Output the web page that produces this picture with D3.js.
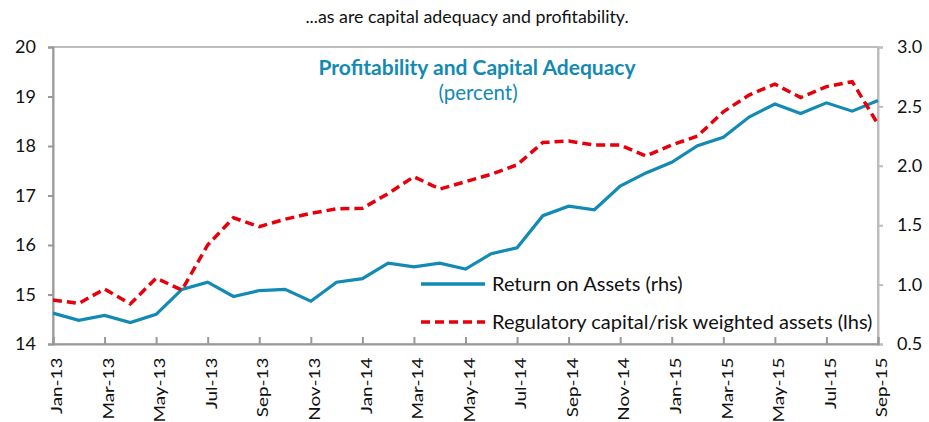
<!DOCTYPE html>
<html><head><meta charset="utf-8">
<script src="https://cdn.jsdelivr.net/npm/d3@7"></script>
<style>body{margin:0;background:#fff}svg{display:block;font-family:Lato,"Open Sans",sans-serif}</style>
</head><body><svg id="c" width="929" height="422"></svg>
<script>
const months = ["Jan-13","Feb-13","Mar-13","Apr-13","May-13","Jun-13","Jul-13","Aug-13","Sep-13","Oct-13","Nov-13","Dec-13",
"Jan-14","Feb-14","Mar-14","Apr-14","May-14","Jun-14","Jul-14","Aug-14","Sep-14","Oct-14","Nov-14","Dec-14",
"Jan-15","Feb-15","Mar-15","Apr-15","May-15","Jun-15","Jul-15","Aug-15","Sep-15"];
const roa = [0.76,0.70,0.74,0.68,0.75,0.96,1.02,0.90,0.95,0.96,0.86,1.02,1.05,1.18,1.15,1.18,1.13,1.26,1.31,1.58,1.66,1.63,1.83,1.94,2.03,2.17,2.24,2.41,2.52,2.44,2.53,2.46,2.55];
const capital = [14.89,14.82,15.11,14.81,15.33,15.09,16.00,16.55,16.37,16.52,16.64,16.73,16.74,17.04,17.38,17.13,17.28,17.43,17.62,18.07,18.10,18.02,18.02,17.80,18.02,18.20,18.69,19.03,19.25,18.98,19.20,19.30,18.44];
const leftTicks = [14,15,16,17,18,19,20];
const rightTicks = [0.5,1.0,1.5,2.0,2.5,3.0];
const xLabels = months.filter((d,i)=>i%2===0);
const title = "...as are capital adequacy and profitability.";
const innerTitle = "Profitability and Capital Adequacy";
const innerSub = "(percent)";
const legendROA = "Return on Assets (rhs)";
const legendCap = "Regulatory capital/risk weighted assets (lhs)";

const blue = "#138ab3", red = "#e5000c";
const L = 53, R = 878, T = 47, B = 344;
const svg = d3.select("#c");
const x = d3.scalePoint().domain(months).range([L, R]);
const yL = d3.scaleLinear().domain([14,20]).range([B, T]);
const yR = d3.scaleLinear().domain([0.5,3.0]).range([B, T]);

svg.append("text").attr("x",467).attr("y",23).attr("text-anchor","middle")
  .attr("font-size",17.8).attr("fill","#111").text(title);

// frame
svg.append("rect").attr("x",L).attr("y",T).attr("width",R-L).attr("height",B-T)
  .attr("fill","none").attr("stroke","#bdbdbd").attr("stroke-width",2);

// left axis
const gl = svg.append("g").attr("transform",`translate(${L},0)`)
  .call(d3.axisLeft(yL).tickValues(leftTicks).tickSize(5).tickPadding(12).tickFormat(d3.format("d")));
gl.selectAll("text").attr("font-size",18).attr("fill","#111").attr("font-family","Lato,sans-serif");
gl.selectAll("line,path").attr("stroke","#999").attr("stroke-width",2);

// right axis
const gr = svg.append("g").attr("transform",`translate(${R},0)`)
  .call(d3.axisRight(yR).tickValues(rightTicks).tickSize(5).tickPadding(14).tickFormat(d3.format(".1f")));
gr.selectAll("text").attr("font-size",18).attr("fill","#111").attr("font-family","Lato,sans-serif");
gr.selectAll("line,path").attr("stroke","#bdbdbd").attr("stroke-width",2);

// bottom axis
const gb = svg.append("g").attr("transform",`translate(0,${B})`)
  .call(d3.axisBottom(x).tickValues(xLabels).tickSize(-7).tickPadding(9));
gb.selectAll("line,path").attr("stroke","#999").attr("stroke-width",2);
gb.selectAll(".tick text").attr("font-size",14.5).attr("fill","#111").attr("font-family","Lato,sans-serif")
  .attr("text-anchor","end").attr("dy","0.6em")
  .attr("transform","rotate(-90) scale(1.3,1)")
  .attr("x",-10.5).attr("y",0);

// lines
svg.append("path").datum(roa).attr("fill","none").attr("stroke",blue).attr("stroke-width",3.2)
  .attr("d",d3.line().x((d,i)=>x(months[i])).y(d=>yR(d)));
svg.append("path").datum(capital).attr("fill","none").attr("stroke",red).attr("stroke-width",3.5)
  .attr("stroke-dasharray","9,5")
  .attr("d",d3.line().x((d,i)=>x(months[i])).y(d=>yL(d)));

// inner titles
svg.append("text").attr("x",477).attr("y",75).attr("text-anchor","middle").attr("font-size",21)
  .attr("font-weight","bold").attr("fill",blue).text(innerTitle);
svg.append("text").attr("x",478).attr("y",100).attr("text-anchor","middle").attr("font-size",20.5)
  .attr("fill",blue).text(innerSub);

// legend
svg.append("line").attr("x1",421).attr("x2",485).attr("y1",284).attr("y2",284).attr("stroke",blue).attr("stroke-width",3.5);
svg.append("text").attr("x",492).attr("y",291).attr("font-size",20).attr("fill","#111").text(legendROA);
svg.append("line").attr("x1",421).attr("x2",485).attr("y1",322).attr("y2",322).attr("stroke",red).attr("stroke-width",3.5).attr("stroke-dasharray","9,5");
svg.append("text").attr("x",492).attr("y",329).attr("font-size",20).attr("fill","#111").text(legendCap);
</script></body></html>
